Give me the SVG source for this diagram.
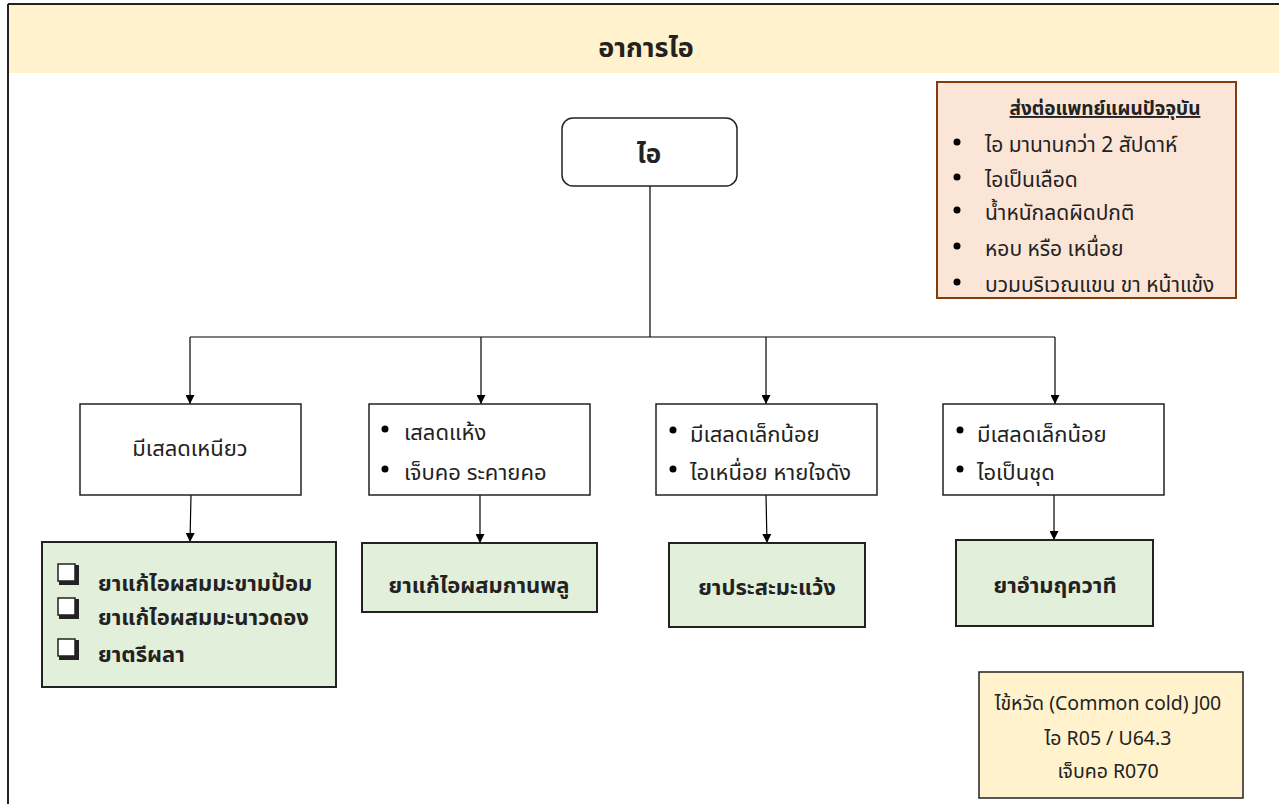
<svg xmlns="http://www.w3.org/2000/svg" width="1279" height="804" viewBox="0 0 1279 804">
<defs>
<marker id="arr" viewBox="0 0 10 10" refX="10" refY="5" markerWidth="9" markerHeight="9" markerUnits="userSpaceOnUse" orient="auto"><path d="M0,0 L10,5 L0,10 z" fill="#000"/></marker>
<style>
text{font-family:"Noto Sans Thai","Noto Sans","Liberation Sans",sans-serif;fill:#222;}
.t{font-size:22px;}
.r{font-size:21px;}
.b{font-weight:bold;}
.c{text-anchor:middle;}
.box{fill:#fff;stroke:#222;stroke-width:1.5;}
.green{fill:#E2EFDA;stroke:#222;stroke-width:2;}
.ln{fill:none;stroke:#000;stroke-width:1.2;}
.dot{fill:#000;}
.cb{fill:#fff;stroke:#222;stroke-width:1.5;}
</style>
</defs>
<rect x="0" y="0" width="1279" height="804" fill="#fff"/>
<g id="frame">
<rect x="8" y="5" width="1275" height="68" fill="#FFF2CC"/>
<line x1="8" y1="4" x2="1279" y2="4" stroke="#222" stroke-width="2"/>
<line x1="8" y1="4" x2="8" y2="804" stroke="#222" stroke-width="2"/>
<text x="646" y="57" class="c b" font-size="27">อาการไอ</text>
</g>
<g id="connectors">
<line class="ln" x1="650" y1="186" x2="650" y2="337" stroke-width="2"/>
<line class="ln" x1="190" y1="337" x2="1055" y2="337"/>
<line class="ln" x1="190" y1="337" x2="190" y2="404" marker-end="url(#arr)"/>
<line class="ln" x1="481" y1="337" x2="481" y2="404" marker-end="url(#arr)"/>
<line class="ln" x1="766" y1="337" x2="766" y2="404" marker-end="url(#arr)"/>
<line class="ln" x1="1055" y1="337" x2="1055" y2="404" marker-end="url(#arr)"/>
<line class="ln" x1="191" y1="495" x2="190" y2="542" marker-end="url(#arr)"/>
<line class="ln" x1="480" y1="495" x2="480" y2="543" marker-end="url(#arr)"/>
<line class="ln" x1="766" y1="495" x2="767" y2="543" marker-end="url(#arr)"/>
<line class="ln" x1="1054" y1="495" x2="1054" y2="540" marker-end="url(#arr)"/>
</g>
<g id="referral">
<rect x="937" y="82" width="299" height="216" fill="#FBE5D6" stroke="#843C0C" stroke-width="2"/>
<text x="1105" y="115" class="b c" font-size="19" text-decoration="underline">ส่งต่อแพทย์แผนปัจจุบัน</text>
<circle class="dot" cx="957" cy="142" r="3.5"/>
<text x="985" y="152" class="r">ไอ มานานกว่า 2 สัปดาห์</text>
<circle class="dot" cx="957" cy="177" r="3.5"/>
<text x="985" y="187" class="r">ไอเป็นเลือด</text>
<circle class="dot" cx="957" cy="210" r="3.5"/>
<text x="985" y="220" class="r">น้ำหนักลดผิดปกติ</text>
<circle class="dot" cx="957" cy="246" r="3.5"/>
<text x="985" y="256" class="r">หอบ หรือ เหนื่อย</text>
<circle class="dot" cx="957" cy="282" r="3.5"/>
<text x="985" y="292" class="r">บวมบริเวณแขน ขา หน้าแข้ง</text>
</g>
<g id="root">
<rect x="562" y="118" width="175" height="68" rx="11" class="box"/>
<text x="649" y="163" class="b c" font-size="26">ไอ</text>
</g>
<g id="n1">
<rect x="80" y="404" width="221" height="91" class="box"/>
<text x="190" y="456" class="t c">มีเสลดเหนียว</text>
</g>
<g id="n2">
<rect x="369" y="404" width="221" height="91" class="box"/>
<circle class="dot" cx="385" cy="429" r="3.5"/>
<text x="404" y="440" class="t">เสลดแห้ง</text>
<circle class="dot" cx="385" cy="469" r="3.5"/>
<text x="404" y="480" class="t">เจ็บคอ ระคายคอ</text>
</g>
<g id="n3">
<rect x="656" y="404" width="221" height="91" class="box"/>
<circle class="dot" cx="673" cy="430" r="3.5"/>
<text x="690" y="442" class="t">มีเสลดเล็กน้อย</text>
<circle class="dot" cx="673" cy="469" r="3.5"/>
<text x="690" y="480" class="t">ไอเหนื่อย หายใจดัง</text>
</g>
<g id="n4">
<rect x="943" y="404" width="221" height="91" class="box"/>
<circle class="dot" cx="960" cy="430" r="3.5"/>
<text x="977" y="442" class="t">มีเสลดเล็กน้อย</text>
<circle class="dot" cx="960" cy="469" r="3.5"/>
<text x="977" y="480" class="t">ไอเป็นชุด</text>
</g>
<g id="g1">
<rect x="42" y="542" width="294" height="145" class="green"/>
<rect x="59" y="565" width="20" height="20" fill="#222"/><rect x="58" y="564" width="17" height="17" class="cb"/>
<text x="98" y="591" class="t b">ยาแก้ไอผสมมะขามป้อม</text>
<rect x="59" y="599" width="20" height="20" fill="#222"/><rect x="58" y="598" width="17" height="17" class="cb"/>
<text x="98" y="625" class="t b">ยาแก้ไอผสมมะนาวดอง</text>
<rect x="59" y="640" width="20" height="20" fill="#222"/><rect x="58" y="639" width="17" height="17" class="cb"/>
<text x="98" y="662" class="t b">ยาตรีผลา</text>
</g>
<g id="g2">
<rect x="362" y="543" width="235" height="69" class="green"/>
<text x="479" y="593" class="t b c">ยาแก้ไอผสมกานพลู</text>
</g>
<g id="g3">
<rect x="669" y="543" width="196" height="84" class="green"/>
<text x="767" y="595" class="t b c">ยาประสะมะแว้ง</text>
</g>
<g id="g4">
<rect x="956" y="540" width="197" height="86" class="green"/>
<text x="1055" y="593" class="t b c">ยาอำมฤควาที</text>
</g>
<g id="codes">
<rect x="979" y="672" width="264" height="126" fill="#FFF2CC" stroke="#222" stroke-width="1.5"/>
<text x="1108" y="710" class="c" font-size="19.5">ไข้หวัด (Common cold) J00</text>
<text x="1108" y="745" class="c" font-size="19.5">ไอ R05 / U64.3</text>
<text x="1108" y="778" class="c" font-size="19.5">เจ็บคอ R070</text>
</g>
</svg>
